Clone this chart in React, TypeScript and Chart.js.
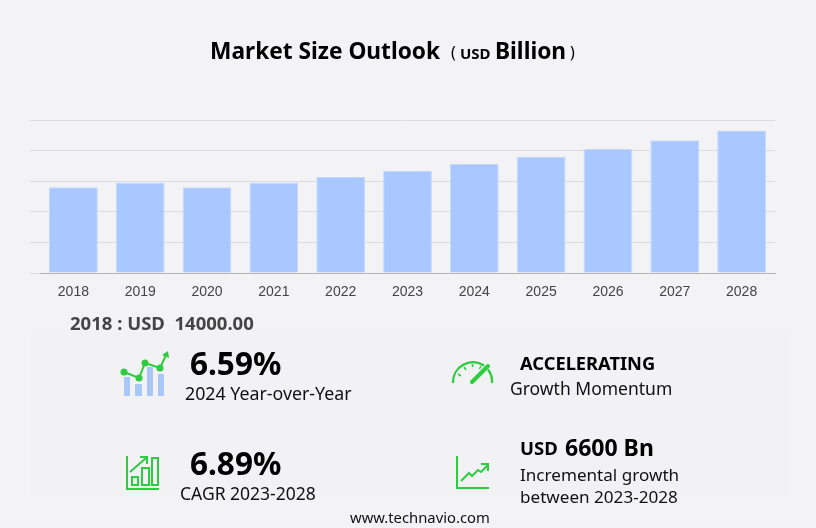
import { useEffect, useRef } from "react"
import type { CSSProperties, ReactNode } from "react"
import { Chart, registerables } from "chart.js"

Chart.register(...registerables)

const years = ["2018", "2019", "2020", "2021", "2022", "2023", "2024", "2025", "2026", "2027", "2028"]
const marketSize = [14000, 14800, 14000, 14800, 15700, 16700, 17800, 19000, 20300, 21700, 23300]

const PAGE_BG = "#f3f3f5"
const BAR_BLUE = "#a8c8ff"
const GREEN = "#2ecc40"
const SANS = '"Noto Sans", "Open Sans", sans-serif'

// one line of text, placed by its left edge and vertical centre
function Label(props: { x: number; y: number; size: number; bold?: boolean; color?: string; children: ReactNode }) {
  const style: CSSProperties = {
    position: "absolute",
    left: props.x,
    top: props.y - 20,
    height: 40,
    lineHeight: "40px",
    fontFamily: SANS,
    fontSize: props.size,
    fontWeight: props.bold ? 700 : 400,
    color: props.color ?? "#111",
    whiteSpace: "pre",
  }
  return <div style={style}>{props.children}</div>
}

function Icons() {
  return (
    <svg width={816} height={528} style={{ position: "absolute", left: 0, top: 0 }}>
      {/* year-over-year */}
      <g fill="#a8c8f8">
        <rect x={124} y={377} width={6} height={19} />
        <rect x={135} y={384} width={7} height={12} />
        <rect x={147} y={367} width={6} height={29} />
        <rect x={158} y={374} width={6} height={22} />
      </g>
      <polyline points="124,372 139,378 145,363 160,368 167,353" fill="none" stroke={GREEN} strokeWidth={2} />
      <g fill={GREEN}>
        <circle cx={124} cy={372} r={3.5} />
        <circle cx={139} cy={378} r={3.5} />
        <circle cx={145} cy={363} r={3.5} />
        <circle cx={160} cy={368} r={3.5} />
        <polygon points="168,351 169,358 162,355" />
      </g>
      {/* speedometer */}
      <g fill="none" stroke={GREEN} strokeWidth={2.4}>
        <path d="M453 383 A20 20 0 0 1 484 365.5" />
        <path d="M488 369.5 A20 20 0 0 1 492 383" />
        <path d="M458 374 L461 376 M464 367 L466 370 M472.5 364 L472.5 367 M481 366 L479.5 369" strokeWidth={1.6} />
      </g>
      <path d="M472 382 L488 366" stroke={GREEN} strokeWidth={4} strokeLinecap="round" />
      {/* cagr bars */}
      <g fill="none" stroke={GREEN} strokeWidth={2}>
        <path d="M127 456 V489 H159" />
        <rect x={132} y={477} width={6} height={8} />
        <rect x={142} y={468} width={7} height={17} />
        <rect x={152} y={458} width={6} height={27} />
        <path d="M130 472 L146 458 M140 457 H147 V464" />
      </g>
      {/* incremental growth */}
      <g fill="none" stroke={GREEN} strokeWidth={2}>
        <path d="M457 456 V488 H489" />
        <path d="M461 481 L469 473 L472 476 L478 470 L481 472 L488 465" />
        <path d="M481 464 H488 V471" />
      </g>
    </svg>
  )
}

export default function App() {
  const canvasRef = useRef<HTMLCanvasElement>(null)

  useEffect(() => {
    document.body.style.margin = "0"
    document.body.style.background = PAGE_BG
    if (!canvasRef.current) return

    const chart = new Chart(canvasRef.current, {
      type: "bar",
      data: {
        labels: years,
        datasets: [
          {
            data: marketSize,
            backgroundColor: BAR_BLUE,
            borderColor: "#c2d8fb",
            borderWidth: 1,
            barPercentage: 0.73,
            categoryPercentage: 1,
          },
        ],
      },
      options: {
        responsive: false,
        animation: false,
        layout: { padding: { left: 30, right: 41, top: 120, bottom: 225 } },
        plugins: {
          legend: { display: false },
          tooltip: { enabled: false },
        },
        scales: {
          x: {
            grid: { display: false },
            border: { color: "#b4b4b8" },
            ticks: {
              padding: 3,
              maxRotation: 0,
              color: "#444",
              font: { family: "Liberation Sans", size: 14 },
            },
            afterFit: (scale) => {
              scale.height = 30
            },
          },
          y: {
            min: 0,
            max: 25000,
            ticks: { display: false, stepSize: 5000 },
            grid: { color: "#dcdcdf", tickLength: 10 },
            border: { display: false },
          },
        },
      },
    })

    return () => {
      chart.destroy()
    }
  }, [])

  return (
    <div style={{ position: "relative", width: 816, height: 528, overflow: "hidden", background: PAGE_BG }}>
      <div style={{ position: "absolute", left: 30, top: 332, width: 760, height: 165, background: "#f2f2f4" }} />
      <canvas ref={canvasRef} width={816} height={528} style={{ position: "absolute", left: 0, top: 0 }} />
      <Icons />

      <Label x={210} y={51} size={22.7} bold color="#000">Market Size Outlook</Label>
      <Label x={451} y={52} size={16} color="#000">(</Label>
      <Label x={460} y={53} size={15} bold color="#000">USD</Label>
      <Label x={495} y={51} size={22.7} bold color="#000">Billion</Label>
      <Label x={570} y={52} size={16} color="#000">)</Label>

      <Label x={70} y={323} size={18.5} bold color="#444">2018 : USD  14000.00</Label>

      <Label x={190} y={363} size={31.5} bold color="#000">6.59%</Label>
      <Label x={185} y={393} size={17.8} color="#111">2024 Year-over-Year</Label>
      <Label x={190} y={463} size={31.5} bold color="#000">6.89%</Label>
      <Label x={180} y={493} size={17.5} color="#111">CAGR 2023-2028</Label>

      <Label x={520} y={363} size={18.3} bold color="#000">ACCELERATING</Label>
      <Label x={510} y={388} size={17.5} color="#111">Growth Momentum</Label>
      <Label x={520} y={448} size={18.5} bold color="#000">USD</Label>
      <Label x={565} y={447} size={23} bold color="#000">6600 Bn</Label>
      <Label x={520} y={475} size={17.1} color="#111">Incremental growth</Label>
      <Label x={520} y={497} size={17.1} color="#111">between 2023-2028</Label>

      <Label x={350} y={517} size={14.8} color="#111">www.technavio.com</Label>
    </div>
  )
}
